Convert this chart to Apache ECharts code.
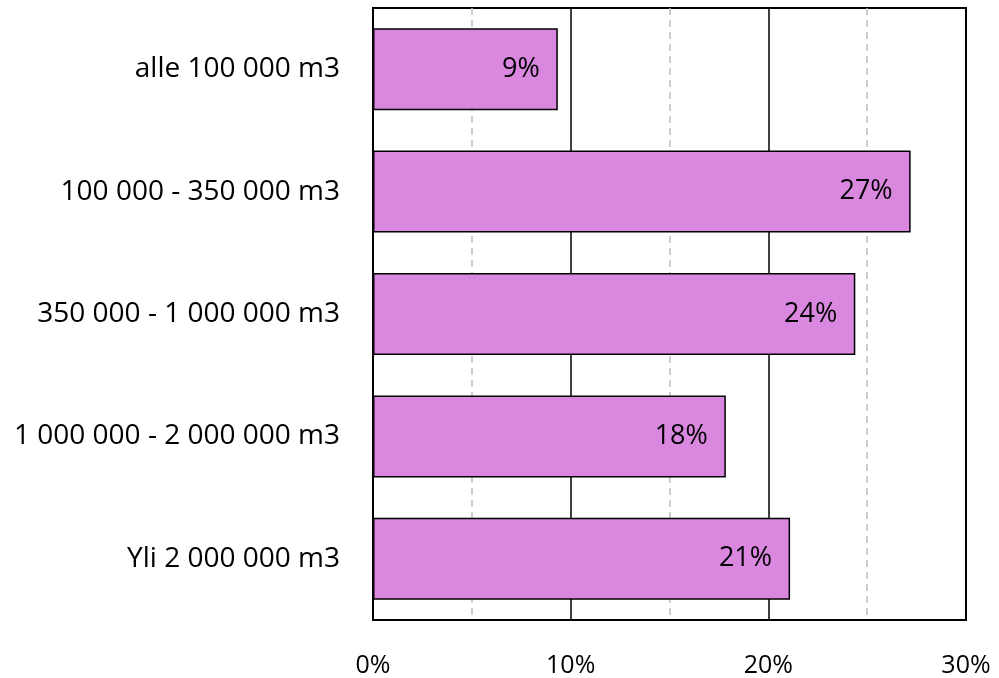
<!DOCTYPE html>
<html><head><meta charset="utf-8">
<script src="https://cdn.jsdelivr.net/npm/echarts@6/dist/echarts.min.js"></script>
<style>html,body{margin:0;padding:0;background:#fff}#c{width:999px;height:678px}</style>
</head><body><div id="c"></div>
<script>
const categories = ['alle 100 000 m3', '100 000 - 350 000 m3', '350 000 - 1 000 000 m3', '1 000 000 - 2 000 000 m3', 'Yli 2 000 000 m3'];
const values = [9.35, 27.2, 24.4, 17.85, 21.1];
const xTicks = [0, 10, 20, 30];

const chart = echarts.init(document.getElementById('c'));
const font = 'Open Sans, sans-serif';
chart.setOption({
  animation: false,
  grid: {left: 373, right: 33, top: 8, bottom: 58, show: true, borderColor: '#000', borderWidth: 2, backgroundColor: 'transparent'},
  xAxis: {
    type: 'value', min: xTicks[0], max: xTicks[xTicks.length - 1], interval: 10,
    axisLine: {show: false}, axisTick: {show: false},
    axisLabel: {formatter: v => v + '%', color: '#000', fontSize: 25, fontFamily: font, margin: 33},
    splitLine: {show: true, lineStyle: {color: '#000', width: 1.5}},
    minorTick: {show: false, splitNumber: 2},
    minorSplitLine: {show: true, lineStyle: {color: '#bdbdbd', width: 1.5, type: [7, 5]}}
  },
  yAxis: {
    type: 'category', data: categories, inverse: true,
    axisLine: {show: false}, axisTick: {show: false},
    axisLabel: {color: '#000', fontSize: 28, fontFamily: font, margin: 33}
  },
  series: [{
    type: 'bar', data: values, barWidth: '67%',
    itemStyle: {color: '#da87e0', borderColor: '#000', borderWidth: 1.5},
    label: {show: true, position: 'insideRight', distance: 18, formatter: p => Math.round(p.value) + '%', color: '#000', fontSize: 27, fontFamily: font}
  }]
});
</script></body></html>
